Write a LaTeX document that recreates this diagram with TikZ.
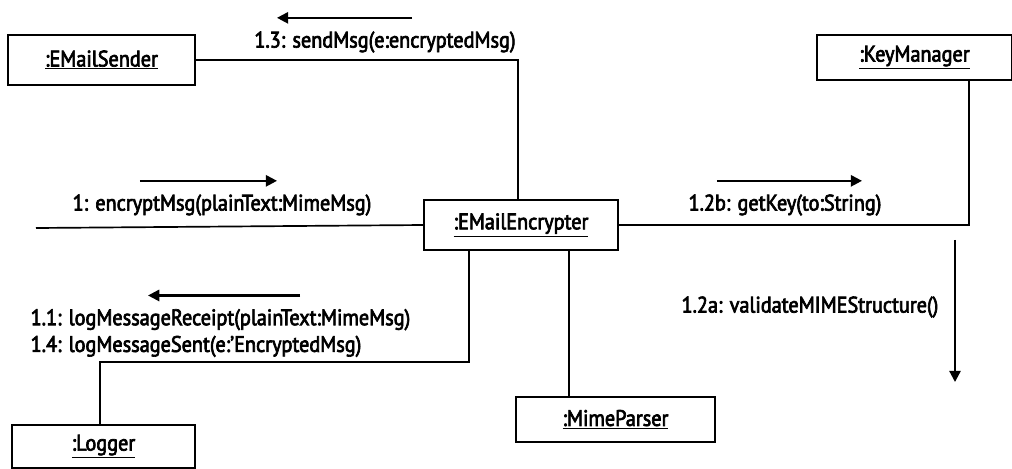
\documentclass[tikz,border=0pt]{standalone}
\usepackage{fontspec}
\setmainfont{PT Sans}[FakeStretch=0.9, UprightFeatures={FakeBold=3}]
\usetikzlibrary{arrows.meta,positioning}

\begin{document}
\begin{tikzpicture}[
        x=0.025cm, y=-0.025cm,
        obj/.style={draw, line width=1.2pt, inner sep=0pt, font=\fontsize{16}{19}\selectfont},
        link/.style={line width=1.2pt},
        msg/.style={inner sep=1pt, font=\fontsize{16}{19}\selectfont},
        arrow/.style={-{Triangle[length=8pt,width=8pt]}, line width=1.6pt}
    ]
        \useasboundingbox (0,0) rectangle (1012,468);

        % objects
        \node[obj, minimum width=4.675cm, minimum height=1.25cm] (Sender) at (101.5,60) {\underline{:EMailSender}};
        \node[obj, minimum width=4.875cm, minimum height=1.125cm] (KeyMgr) at (914.5,57.5) {\underline{:KeyManager}};
        \node[obj, minimum width=4.85cm, minimum height=1.25cm] (Encrypter) at (521,225) {\underline{:EMailEncrypter}};
        \node[obj, minimum width=4.975cm, minimum height=1.125cm] (Parser) at (615.5,419.5) {\underline{:MimeParser}};
        \node[obj, minimum width=4.575cm, minimum height=1.075cm] (Logger) at (103.5,446.5) {\underline{:Logger}};
        \coordinate (Caller) at (36,228);

        % links
        \draw[link] (Sender.east) -| ([xshift=-0.075cm]Encrypter.north);
        \draw[link] ([xshift=1.36cm]KeyMgr.south) |- (Encrypter.east);
        \draw[link] (Caller) -- (Encrypter.west);
        \draw[link] (Encrypter.south) ++(-52,0) |- ([yshift=1.55cm,xshift=-0.09cm]Logger.north) -- ([xshift=-0.09cm]Logger.north);
        \draw[link] (Encrypter.south) ++(48,0) coordinate (ParserTop) -- (ParserTop |- Parser.north);

        % messages
        \node[msg] (M13) at (385,42) {1.3: sendMsg(e:encryptedMsg)};
        \draw[arrow] ([xshift=0.675cm,yshift=0.3cm]M13.north) -- ([xshift=-2.7cm,yshift=0.3cm]M13.north);

        \node[msg] (M1) at (222,205) {1: encryptMsg(plainText:MimeMsg)};
        \draw[arrow] ([xshift=-2.05cm,yshift=0.3cm]M1.north) -- ([xshift=1.375cm,yshift=0.3cm]M1.north);

        \node[msg] (M12b) at (785,205) {1.2b: getKey(to:String)};
        \draw[arrow] ([xshift=-1.7cm,yshift=0.3cm]M12b.north) -- ([xshift=1.925cm,yshift=0.3cm]M12b.north);

        \node[msg, anchor=west, align=left] (M11) at (29,333) {1.1: logMessageReceipt(plainText:MimeMsg)\\1.4: logMessageSent(e:'EncryptedMsg)};
        \draw[arrow] ([xshift=6.775cm,yshift=0.3cm]M11.north west) -- ([xshift=2.975cm,yshift=0.3cm]M11.north west);

        \node[msg, anchor=east] (M12a) at (940,307) {1.2a: validateMIMEStructure()};
        \draw[arrow] ([xshift=0.375cm,yshift=1.675cm]M12a.east) -- ([xshift=0.375cm,yshift=-1.875cm]M12a.east);
    \end{tikzpicture}
\end{document}
